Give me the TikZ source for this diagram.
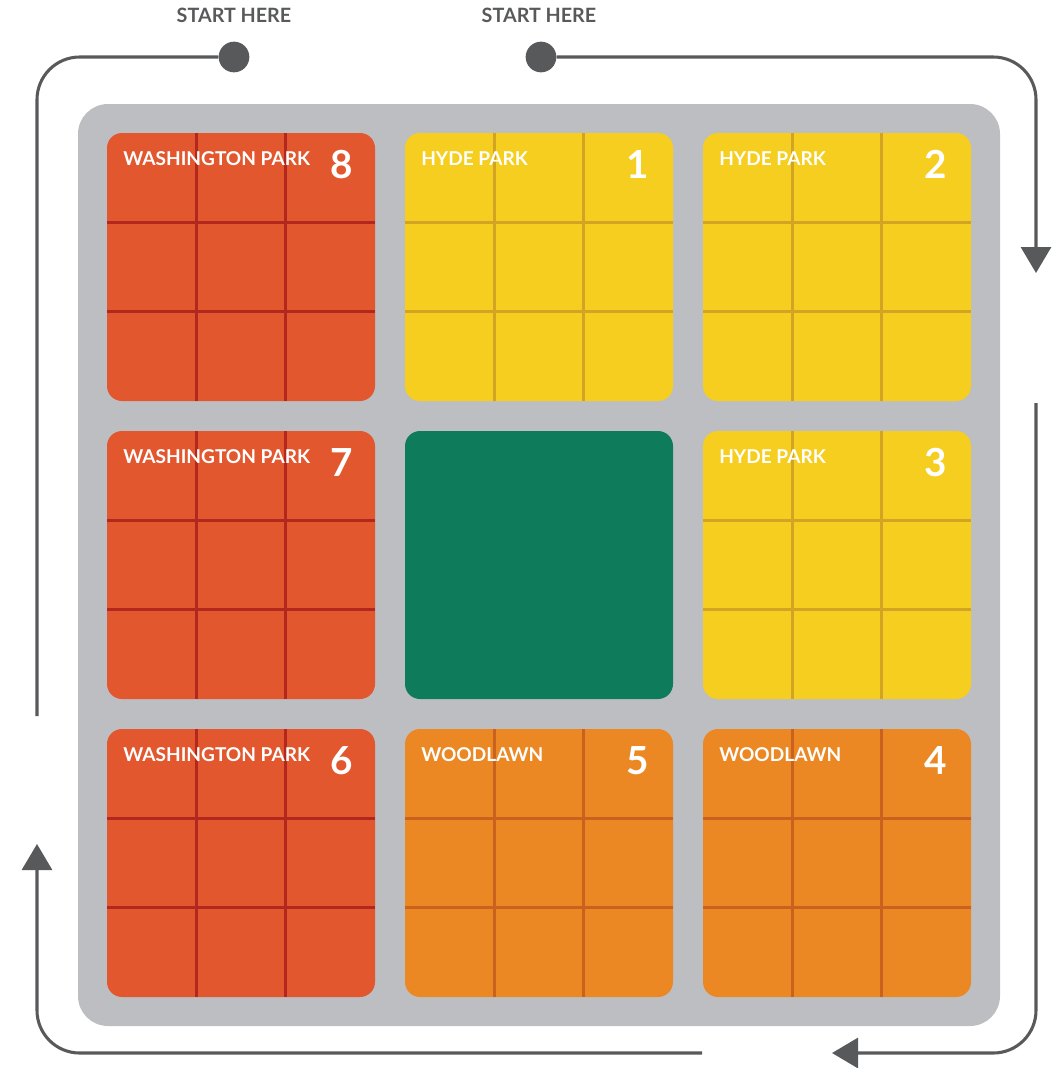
\documentclass[tikz,border=0pt]{standalone}
\usepackage{fontspec}
\setmainfont{Lato}
\usepackage{xcolor}
\usepackage{tikz}
\usetikzlibrary{arrows.meta, positioning, fit, calc, backgrounds}
\definecolor{wash}{HTML}{E2572E}
\definecolor{washline}{HTML}{B3281E}
\definecolor{hyde}{HTML}{F5CE1F}
\definecolor{hydeline}{HTML}{D2A424}
\definecolor{wood}{HTML}{EC8824}
\definecolor{woodline}{HTML}{C9621E}
\definecolor{park}{HTML}{0E7B5A}
\definecolor{board}{HTML}{BDBEC1}
\definecolor{ink}{HTML}{58595B}

\begin{document}
\begin{tikzpicture}[
  x=0.75pt, y=-0.75pt,
  node distance=22.5pt,
  tile/.style={minimum size=201pt, inner sep=0pt, outer sep=0pt, rounded corners=11.25pt},
  wp/.style={tile, fill=wash},
  hp/.style={tile, fill=hyde},
  wl/.style={tile, fill=wood},
  mid/.style={tile, fill=park},
  cellline/.style={line width=2.4pt},
  lbl/.style={anchor=base west, inner sep=0pt, text=white, font=\bfseries\fontsize{14.3}{14.3}\selectfont},
  num/.style={anchor=base, inner sep=0pt, text=white, font=\bfseries\fontsize{29}{29}\selectfont},
  start/.style={text=ink, font=\bfseries\fontsize{14.8}{14.8}\selectfont},
  dot/.style={circle, fill=ink, minimum size=23pt, inner sep=0pt},
  route/.style={draw=ink, line width=2.3pt, rounded corners=32pt},
  arr/.style={route, -{Triangle[length=19.5pt, width=22.5pt]}},
]
\useasboundingbox (0,0) rectangle (1054,1068);

% Tiles
\node[wp] (t8) at (241,267) {};
\node[hp, right=of t8] (t1) {};
\node[hp, right=of t1] (t2) {};
\node[wp, below=of t8] (t7) {};
\node[mid, right=of t7] (t0) {};
\node[hp, right=of t0] (t3) {};
\node[wp, below=of t7] (t6) {};
\node[wl, right=of t6] (t5) {};
\node[wl, right=of t5] (t4) {};

% Board
\begin{scope}[on background layer]
\node[fit=(t8)(t4), inner sep=21.75pt, fill=board, rounded corners=22.5pt] (board) {};
\end{scope}

% Cells
\foreach \t/\c in {t8/washline, t7/washline, t6/washline, t1/hydeline, t2/hydeline, t3/hydeline, t5/woodline, t4/woodline} {
  \foreach \f in {1,2} {
    \draw[cellline, \c] ($(\t.north west)!\f/3!(\t.north east)$) -- ($(\t.south west)!\f/3!(\t.south east)$);
    \draw[cellline, \c] ($(\t.north west)!\f/3!(\t.south west)$) -- ($(\t.north east)!\f/3!(\t.south east)$);
  }
}

% Labels
\node[lbl] (l8) at ($(t8.north west)+(16,32)$) {WASHINGTON PARK};
\node[lbl] (l7) at ($(t7.north west)+(16,32)$) {WASHINGTON PARK};
\node[lbl] (l6) at ($(t6.north west)+(16,32)$) {WASHINGTON PARK};
\node[lbl] (l1) at ($(t1.north west)+(16,32)$) {HYDE PARK};
\node[lbl] (l2) at ($(t2.north west)+(16,32)$) {HYDE PARK};
\node[lbl] (l3) at ($(t3.north west)+(16,32)$) {HYDE PARK};
\node[lbl] (l5) at ($(t5.north west)+(16,32)$) {WOODLAWN};
\node[lbl] (l4) at ($(t4.north west)+(16,32)$) {WOODLAWN};

\node[num] (n8) at ($(t8.north east)+(-33,45)$) {8};
\node[num] (n7) at ($(t7.north east)+(-33,45)$) {7};
\node[num] (n6) at ($(t6.north east)+(-33,45)$) {6};
\node[num] (n1) at ($(t1.north east)+(-35,45)$) {1};
\node[num] (n2) at ($(t2.north east)+(-35,45)$) {2};
\node[num] (n3) at ($(t3.north east)+(-35,45)$) {3};
\node[num] (n5) at ($(t5.north east)+(-35,45)$) {5};
\node[num] (n4) at ($(t4.north east)+(-35,45)$) {4};

% Start points
\node[dot] (s8) at (234,57) {};
\node[dot] (s1) at (541,57) {};
\node[start] (h8) at (234,15) {START HERE};
\node[start] (h1) at (539,15) {START HERE};

% Route
\coordinate (leftend) at (37,716);
\coordinate (leftstart) at (702,1053);
\coordinate (lefttip) at (37,844);
\coordinate (righttip) at (1036,273);
\coordinate (rightstart) at (1036,403);
\coordinate (bottomtip) at (832,1053);

\draw[route] (s8) -| (leftend);
\draw[arr] (leftstart) -| (lefttip);
\draw[arr] (s1) -| (righttip);
\draw[arr] (rightstart) |- (bottomtip);

\end{tikzpicture}
\end{document}
